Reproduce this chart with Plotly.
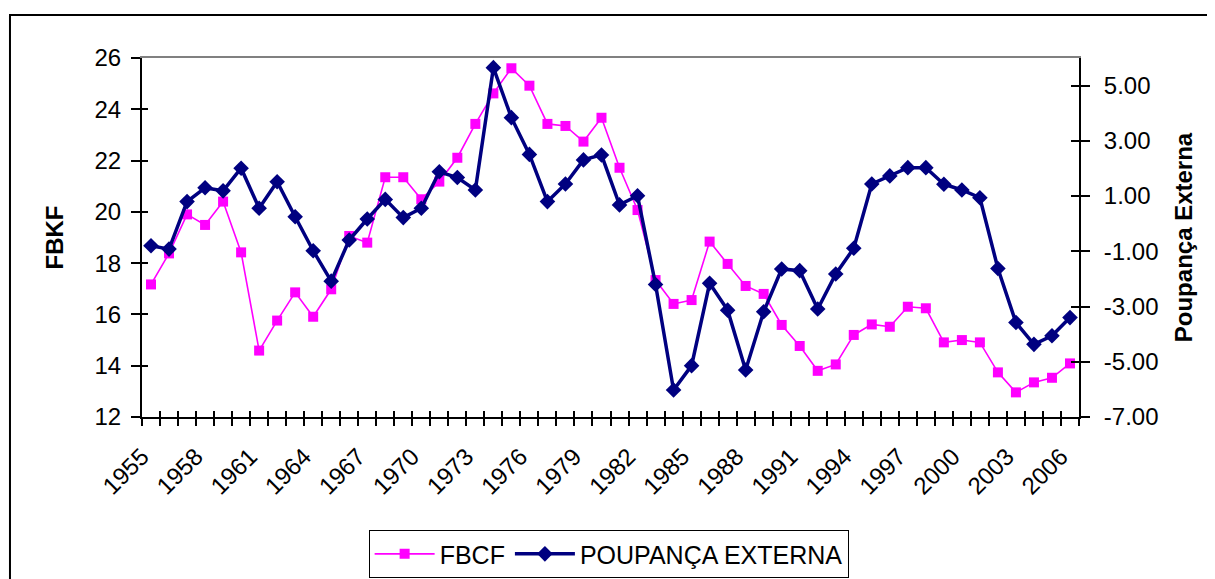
import plotly.graph_objects as go

# ---- data ----
years = list(range(1955, 2007))
fbcf = [17.17, 18.38, 19.90, 19.49, 20.40, 18.42, 14.59, 15.76, 16.86, 15.91,
        16.98, 19.06, 18.80, 21.35, 21.35, 20.49, 21.18, 22.11, 23.43, 24.62,
        25.60, 24.92, 23.43, 23.35, 22.74, 23.67, 21.72, 20.07, 17.34, 16.41,
        16.56, 18.84, 17.97, 17.11, 16.80, 15.59, 14.77, 13.80, 14.05, 15.20,
        15.61, 15.52, 16.30, 16.24, 14.91, 15.00, 14.91, 13.74, 12.96, 13.35,
        13.53, 14.09]
poupanca = [-0.80, -0.92, 0.80, 1.30, 1.19, 2.01, 0.56, 1.52, 0.25, -0.98,
            -2.08, -0.59, 0.17, 0.88, 0.22, 0.56, 1.88, 1.67, 1.22, 5.65,
            3.84, 2.51, 0.80, 1.44, 2.31, 2.49, 0.68, 1.01, -2.20, -6.02,
            -5.14, -2.16, -3.13, -5.30, -3.19, -1.64, -1.70, -3.09, -1.82, -0.89,
            1.44, 1.73, 2.03, 2.03, 1.43, 1.22, 0.94, -1.62, -3.58, -4.37,
            -4.06, -3.40]
x_labels = [1955, 1958, 1961, 1964, 1967, 1970, 1973, 1976, 1979, 1982,
            1985, 1988, 1991, 1994, 1997, 2000, 2003, 2006]
left_ticks = [12, 14, 16, 18, 20, 22, 24, 26]
right_ticks = [-7, -5, -3, -1, 1, 3, 5]
right_ticktext = ["-7.00", "-5.00", "-3.00", "-1.00", "1.00", "3.00", "5.00"]

FONT = "Liberation Sans, Arial, sans-serif"
TICK_SIZE = 24
x_range = [years[0] - 0.5, years[-1] + 0.5]
boundaries = [y - 0.5 for y in years] + [years[-1] + 0.5]
label_pos = [y - 0.5 for y in x_labels]

fig = go.Figure()

# empty helper traces so that the overlay axes (crossing tick marks) are drawn
for xa, ya in [("x2", "y"), ("x3", "y"), ("x4", "y"), ("x", "y3"), ("x", "y4")]:
    fig.add_trace(go.Scatter(x=[], y=[], xaxis=xa, yaxis=ya, mode="markers",
                             showlegend=False, hoverinfo="skip"))

fig.add_trace(go.Scatter(
    x=years, y=fbcf, name="FBCF", mode="lines+markers",
    line=dict(color="#FF00FF", width=1.6),
    marker=dict(symbol="square", size=10, color="#FF00FF"),
    xaxis="x", yaxis="y"))
fig.add_trace(go.Scatter(
    x=years, y=poupanca, name="POUPANÇA EXTERNA", mode="lines+markers",
    line=dict(color="#000080", width=3.5),
    marker=dict(symbol="diamond", size=12, color="#000080"),
    xaxis="x", yaxis="y2"))

common = dict(showgrid=False, zeroline=False)

fig.update_layout(
    width=1207, height=571,
    margin=dict(l=134, r=136, t=50, b=162, autoexpand=False),
    paper_bgcolor="white", plot_bgcolor="white",
    font=dict(family=FONT, size=TICK_SIZE, color="black"),
    showlegend=True,
    legend=dict(orientation="h", x=0.498, xanchor="center", y=-0.315, yanchor="top",
                bordercolor="black", borderwidth=1, bgcolor="white",
                font=dict(family=FONT, size=25, color="black"),
                itemwidth=60, tracegroupgap=0),
    xaxis=dict(**common, range=x_range, tickmode="array", tickvals=label_pos,
               ticktext=[str(v) for v in x_labels], tickangle=-45,
               ticks="outside", ticklen=8, tickcolor="rgba(0,0,0,0)",
               ticklabelstandoff=6, automargin=False,
               showline=True, linecolor="black", linewidth=2,
               tickfont=dict(family=FONT, size=TICK_SIZE, color="black")),
    xaxis2=dict(**common, overlaying="x", anchor="y", side="bottom", range=x_range,
                tickmode="array", tickvals=boundaries, ticks="outside", ticklen=8,
                tickwidth=2, tickcolor="black", showticklabels=False, showline=False),
    xaxis3=dict(**common, overlaying="x", anchor="y", side="bottom", range=x_range,
                tickmode="array", tickvals=boundaries, ticks="inside", ticklen=6,
                tickwidth=2, tickcolor="black", showticklabels=False, showline=False),
    xaxis4=dict(**common, overlaying="x", anchor="y", side="top", range=x_range,
                showticklabels=False, ticks="", showline=True,
                linecolor="#808080", linewidth=2),
    yaxis=dict(**common, range=[12, 26], tickmode="array", tickvals=left_ticks,
               ticks="outside", ticklen=9, tickwidth=2, tickcolor="black",
               ticklabelstandoff=5, automargin=False,
               showline=True, linecolor="black", linewidth=2,
               tickfont=dict(family=FONT, size=TICK_SIZE, color="black"),
               title=dict(text="FBKF", standoff=24,
                          font=dict(family=FONT, size=24, color="black", weight="bold"))),
    yaxis2=dict(**common, overlaying="y", side="right", anchor="x", range=[-7, 6],
                tickmode="array", tickvals=right_ticks, ticktext=right_ticktext,
                ticks="outside", ticklen=9, tickwidth=2, tickcolor="black",
                ticklabelstandoff=9, automargin=False,
                showline=True, linecolor="black", linewidth=2,
                tickfont=dict(family=FONT, size=TICK_SIZE, color="black"),
                title=dict(text="Poupança Externa", standoff=18,
                           font=dict(family=FONT, size=24, color="black", weight="bold"))),
    yaxis3=dict(**common, overlaying="y", side="left", anchor="x", range=[12, 26],
                tickmode="array", tickvals=left_ticks, ticks="inside", ticklen=6,
                tickwidth=2, tickcolor="black", showticklabels=False, showline=False),
    yaxis4=dict(**common, overlaying="y", side="right", anchor="x", range=[-7, 6],
                tickmode="array", tickvals=right_ticks, ticks="inside", ticklen=8,
                tickwidth=2, tickcolor="black", showticklabels=False, showline=False),
)

# outer chart frame
fig.add_shape(type="rect", xref="paper", yref="paper",
              x0=-0.1409, x1=1.147, y0=-0.46, y1=1.1198,
              line=dict(color="black", width=2), fillcolor="rgba(0,0,0,0)", layer="below")

fig.write_html("out.html")
